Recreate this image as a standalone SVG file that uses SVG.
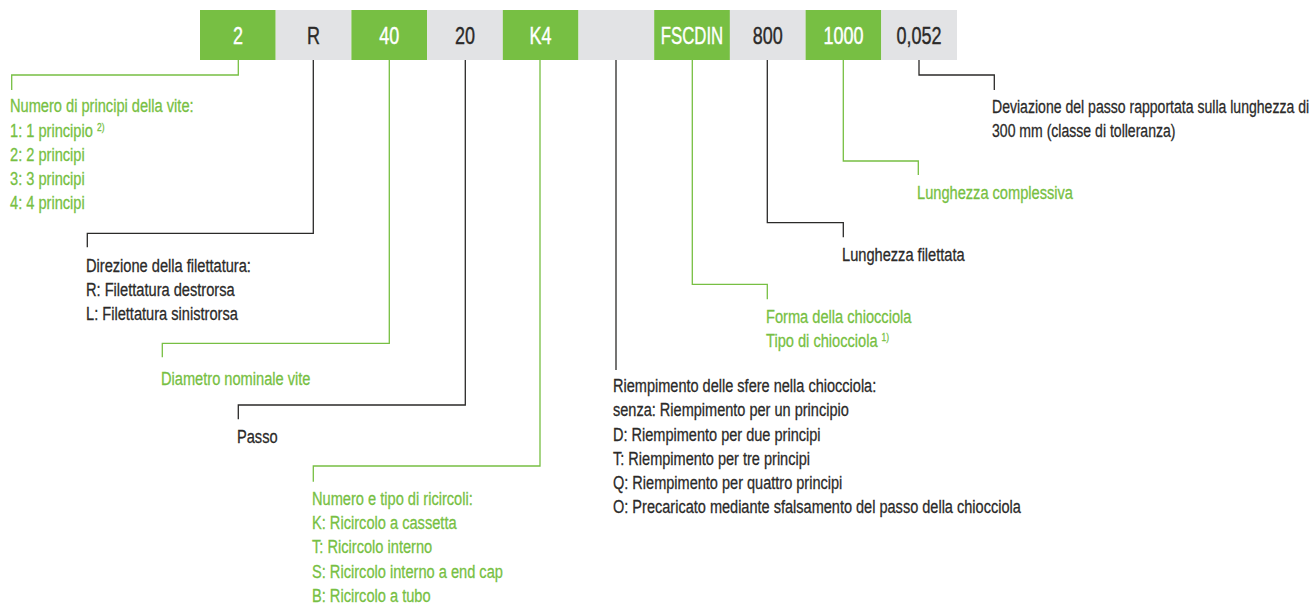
<svg xmlns="http://www.w3.org/2000/svg" width="1316" height="604" viewBox="0 0 1316 604">
<style>
.bg{fill:#ffffff}
.bx-g{fill:#77bf43}
.bx-n{fill:#e2e3e5}
.lbl{font-family:"Liberation Sans",Arial,sans-serif;font-size:24px;text-anchor:middle;stroke-width:0.4}
.lbl-w{fill:#ffffff;stroke:#ffffff}
.lbl-d{fill:#2b2a29;stroke:#2b2a29}
.t{font-family:"Liberation Sans",Arial,sans-serif;font-size:19px;stroke-width:0.3}
.tg{fill:#77bf43;stroke:#77bf43}
.td{fill:#2b2a29;stroke:#2b2a29}
.sup{font-size:11px}
.cg{fill:none;stroke:#77bf43;stroke-width:1.3}
.cd{fill:none;stroke:#2b2a29;stroke-width:1.3}
</style>
<rect class="bg" x="0" y="0" width="1316" height="604"/>

<g id="n-2"><rect class="bx-g" x="200" y="10" width="75.7" height="50"/><text class="lbl lbl-w" transform="translate(237.9,0) scale(0.75,1)" x="0" y="44">2</text></g>
<g id="n-R"><rect class="bx-n" x="275.7" y="10" width="75.7" height="50"/><text class="lbl lbl-d" transform="translate(313.5,0) scale(0.75,1)" x="0" y="44">R</text></g>
<g id="n-40"><rect class="bx-g" x="351.4" y="10" width="75.7" height="50"/><text class="lbl lbl-w" transform="translate(389.2,0) scale(0.75,1)" x="0" y="44">40</text></g>
<g id="n-20"><rect class="bx-n" x="427.1" y="10" width="75.7" height="50"/><text class="lbl lbl-d" transform="translate(464.9,0) scale(0.75,1)" x="0" y="44">20</text></g>
<g id="n-K4"><rect class="bx-g" x="502.8" y="10" width="75.7" height="50"/><text class="lbl lbl-w" transform="translate(540.6,0) scale(0.75,1)" x="0" y="44">K4</text></g>
<g id="n-empty"><rect class="bx-n" x="578.5" y="10" width="75.7" height="50"/></g>
<g id="n-FSCDIN"><rect class="bx-g" x="654.2" y="10" width="75.7" height="50"/><text class="lbl lbl-w" transform="translate(692,0) scale(0.7,1)" x="0" y="44">FSCDIN</text></g>
<g id="n-800"><rect class="bx-n" x="729.9" y="10" width="75.7" height="50"/><text class="lbl lbl-d" transform="translate(767.7,0) scale(0.75,1)" x="0" y="44">800</text></g>
<g id="n-1000"><rect class="bx-g" x="805.6" y="10" width="75.7" height="50"/><text class="lbl lbl-w" transform="translate(843.4,0) scale(0.75,1)" x="0" y="44">1000</text></g>
<g id="n-0052"><rect class="bx-n" x="881.3" y="10" width="75.7" height="50"/><text class="lbl lbl-d" transform="translate(919.1,0) scale(0.75,1)" x="0" y="44">0,052</text></g>

<g id="connectors">
<polyline class="cg" points="238.3,60 238.3,75 11.7,75 11.7,90"/>
<polyline class="cd" points="313.3,60 313.3,233.3 87.3,233.3 87.3,247.3"/>
<polyline class="cg" points="389.3,60 389.3,343.3 162.3,343.3 162.3,357.3"/>
<polyline class="cd" points="465.3,60 465.3,405 238.3,405 238.3,419.3"/>
<polyline class="cg" points="540,60 540,466 313.3,466 313.3,481.7"/>
<polyline class="cd" points="616,60 616,370"/>
<polyline class="cg" points="692.3,60 692.3,284.3 767.3,284.3 767.3,299.3"/>
<polyline class="cd" points="767.3,60 767.3,222.7 843.3,222.7 843.3,237.3"/>
<polyline class="cg" points="843.3,60 843.3,161 918.3,161 918.3,175"/>
<polyline class="cd" points="919,60 919,75 994.3,75 994.3,90"/>
</g>

<g id="d-principi" class="t tg" transform="translate(10,0) scale(0.77,1)">
<text x="0" y="112.5">Numero di principi della vite:</text>
<text x="0" y="136.75">1: 1 principio <tspan class="sup" dy="-6">2)</tspan></text>
<text x="0" y="161">2: 2 principi</text>
<text x="0" y="185.25">3: 3 principi</text>
<text x="0" y="209.5">4: 4 principi</text>
</g>

<g id="d-direzione" class="t td" transform="translate(86,0) scale(0.77,1)">
<text x="0" y="272.5">Direzione della filettatura:</text>
<text x="0" y="296.1">R: Filettatura destrorsa</text>
<text x="0" y="319.7">L: Filettatura sinistrorsa</text>
</g>

<g id="d-diametro" class="t tg" transform="translate(161,0) scale(0.77,1)">
<text x="0" y="385.5">Diametro nominale vite</text>
</g>

<g id="d-passo" class="t td" transform="translate(237,0) scale(0.77,1)">
<text x="0" y="443.5">Passo</text>
</g>

<g id="d-ricircoli" class="t tg" transform="translate(312,0) scale(0.77,1)">
<text x="0" y="505">Numero e tipo di ricircoli:</text>
<text x="0" y="529.2">K: Ricircolo a cassetta</text>
<text x="0" y="553.4">T: Ricircolo interno</text>
<text x="0" y="577.6">S: Ricircolo interno a end cap</text>
<text x="0" y="601.8">B: Ricircolo a tubo</text>
</g>

<g id="d-riempimento" class="t td" transform="translate(613,0) scale(0.765,1)">
<text x="0" y="392">Riempimento delle sfere nella chiocciola:</text>
<text x="0" y="416.3">senza: Riempimento per un principio</text>
<text x="0" y="440.6">D: Riempimento per due principi</text>
<text x="0" y="464.9">T: Riempimento per tre principi</text>
<text x="0" y="489.2">Q: Riempimento per quattro principi</text>
<text x="0" y="513.5">O: Precaricato mediante sfalsamento del passo della chiocciola</text>
</g>

<g id="d-chiocciola" class="t tg" transform="translate(766,0) scale(0.77,1)">
<text x="0" y="323">Forma della chiocciola</text>
<text x="0" y="346.6">Tipo di chiocciola <tspan class="sup" dy="-6">1)</tspan></text>
</g>

<g id="d-filettata" class="t td" transform="translate(842,0) scale(0.77,1)">
<text x="0" y="261.5">Lunghezza filettata</text>
</g>

<g id="d-complessiva" class="t tg" transform="translate(917,0) scale(0.77,1)">
<text x="0" y="199.5">Lunghezza complessiva</text>
</g>

<g id="d-deviazione" class="t td" transform="translate(992,0) scale(0.74,1)">
<text x="0" y="113.5">Deviazione del passo rapportata sulla lunghezza di</text>
<text x="0" y="137.1">300 mm (classe di tolleranza)</text>
</g>
</svg>
